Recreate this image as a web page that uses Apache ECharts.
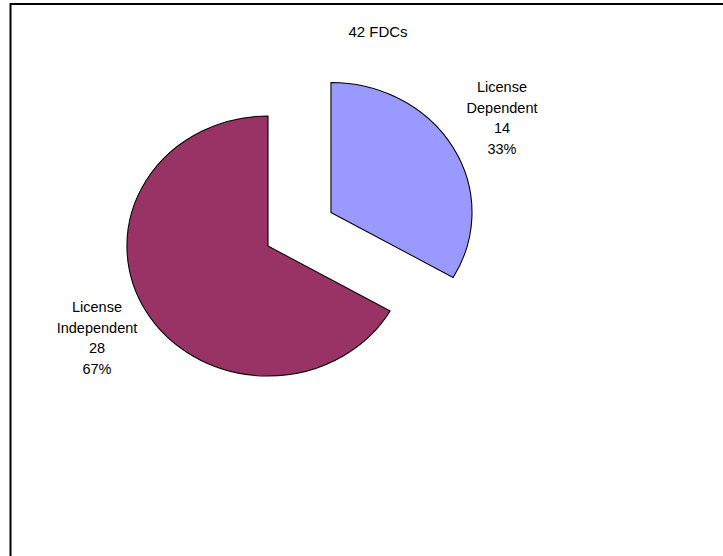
<!DOCTYPE html>
<html>
<head>
<meta charset="utf-8">
<script src="https://cdn.jsdelivr.net/npm/echarts@6/dist/echarts.min.js"></script>
<style>
html,body{margin:0;padding:0;background:#fff;}
#wrap{position:relative;width:723px;height:556px;overflow:hidden;}
#pie,#top{position:absolute;left:0;top:0;width:723px;height:556px;}
#pie{transform:scaleX(1.085);transform-origin:268px 246px;}
</style>
</head>
<body>
<div id="wrap"><div id="pie"></div><div id="top"></div></div>
<script>
const titleText = '42 FDCs';
const categories = ['License Dependent', 'License Independent'];
const values = [14, 28];
const colors = ['#9999FF', '#993366'];
const exploded = [true, false];

const pieData = categories.map((c, i) => ({
  name: c, value: values[i], selected: exploded[i],
  itemStyle: { color: colors[i] }
}));

const pieChart = echarts.init(document.getElementById('pie'), null, {renderer: 'svg'});
pieChart.setOption({
  animation: false,
  series: [{
    type: 'pie',
    center: [268, 246],
    radius: 130,
    startAngle: 90,
    clockwise: true,
    selectedMode: 'multiple',
    selectedOffset: 67,
    silent: true,
    label: { show: false },
    labelLine: { show: false },
    itemStyle: { borderColor: '#000', borderWidth: 1 },
    emphasis: { disabled: true },
    data: pieData
  }]
});

const labelPos = [[502, 118], [97, 338]];
const topChart = echarts.init(document.getElementById('top'), null, {renderer: 'svg'});
topChart.setOption({
  animation: false,
  title: {
    text: titleText, left: 373, top: 19, textAlign: 'center',
    textStyle: { fontFamily: 'Liberation Sans, Arial', fontSize: 15, fontWeight: 'normal', color: '#000' }
  },
  graphic: [{
    type: 'rect', shape: { x: 10.5, y: 4, width: 900, height: 900 },
    style: { fill: 'none', stroke: '#000', lineWidth: 2 }, silent: true
  }],
  series: [{
    type: 'pie',
    center: [268, 246],
    radius: 130,
    startAngle: 90,
    silent: true,
    itemStyle: { color: 'rgba(0,0,0,0)' },
    emphasis: { disabled: true },
    labelLine: { show: false },
    label: {
      show: true, position: 'outside',
      formatter: p => p.name.replace(' ', '\n') + '\n' + p.value + '\n' + Math.round(p.percent) + '%',
      fontFamily: 'Liberation Sans, Arial', fontSize: 14.5, lineHeight: 20.7, color: '#000', align: 'center'
    },
    labelLayout: function (params) {
      const p = labelPos[params.dataIndex];
      return { x: p[0], y: p[1], align: 'center', verticalAlign: 'middle' };
    },
    data: categories.map((c, i) => ({ name: c, value: values[i] }))
  }]
});
</script>
</body>
</html>
